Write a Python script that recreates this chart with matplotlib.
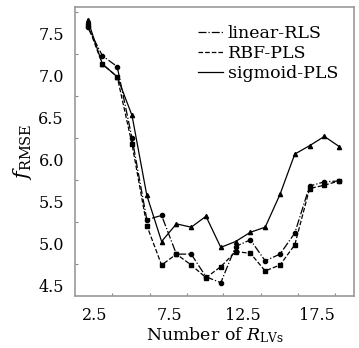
import matplotlib
matplotlib.use("Agg")
import matplotlib.pyplot as plt
from matplotlib.lines import Line2D

plt.rcParams['font.family'] = ['DejaVu Serif']
plt.rcParams['mathtext.fontset'] = 'dejavuserif'

# number of latent variables
lvs = [2, 3, 4, 5, 6, 7, 8, 9, 10, 11, 12, 13, 14, 15, 16, 17, 18, 19]

# RMSE for each model
linear_rls = [7.57, 7.23, 7.10, 6.25, 5.28, 5.33, 4.87, 4.87, 4.60, 4.53,
              4.96, 5.04, 4.79, 4.87, 5.12, 5.68, 5.73, 5.74]
rbf_pls = [7.60, 7.13, 6.98, 6.18, 5.21, 4.74, 4.87, 4.74, 4.59, 4.72,
           4.90, 4.88, 4.67, 4.74, 4.98, 5.65, 5.69, 5.74]
sigmoid_pls = [7.66, 7.13, 6.98, 6.52, 5.57, 5.02, 5.23, 5.19, 5.32, 4.95,
               5.02, 5.13, 5.19, 5.58, 6.06, 6.16, 6.27, 6.15]

xtick_labels = [2.5, 7.5, 12.5, 17.5]
xtick_marks = [3.65, 6.22, 8.72, 11.15, 13.72, 16.22, 18.72]
ytick_labels = [4.5, 5.0, 5.5, 6.0, 6.5, 7.0, 7.5]
ytick_marks = [4.75, 5.25, 5.75, 6.25, 6.75, 7.25, 7.75]

fig = plt.figure(figsize=(3.59, 3.48), dpi=100)
ax = fig.add_axes([0.209, 0.149, 0.777, 0.831])

ax.plot(lvs, linear_rls, color='black', linestyle='-.', linewidth=0.9,
        marker='o', markersize=3)
ax.plot(lvs, rbf_pls, color='black', linestyle='--', linewidth=0.9,
        marker='s', markersize=3)
ax.plot(lvs, sigmoid_pls, color='black', linestyle='-', linewidth=0.9,
        marker='^', markersize=3)

ax.set_xlim(1.15, 20.0)
ax.set_ylim(4.37, 7.81)

ax.set_xticks(xtick_labels)
ax.set_xticklabels([str(v) for v in xtick_labels])
ax.set_xticks(xtick_marks, minor=True)
ax.set_yticks(ytick_labels)
ax.set_yticklabels(['%.1f' % v for v in ytick_labels])
ax.set_yticks(ytick_marks, minor=True)
ax.tick_params(which='major', length=0, labelsize=11.5, pad=8)
ax.tick_params(which='minor', direction='in', length=2.5, width=0.8,
               color='#888888')

for s in ax.spines.values():
    s.set_color('#999999')
    s.set_linewidth(1.2)

ax.set_xlabel(r'Number of $R_{\mathrm{LVs}}$', fontsize=12.5, labelpad=1)
ax.set_ylabel(r'$f_{\mathrm{RMSE}}$', fontsize=15, labelpad=3)

handles = [
    Line2D([], [], color='black', linestyle='-.', linewidth=0.9),
    Line2D([], [], color='black', linestyle='--', linewidth=0.9),
    Line2D([], [], color='black', linestyle='-', linewidth=0.9),
]
ax.legend(handles, ['linear-RLS', 'RBF-PLS', 'sigmoid-PLS'],
          loc='upper right', bbox_to_anchor=(1.0, 0.99), frameon=False,
          fontsize=12.5, handlelength=1.4, handletextpad=0.3,
          labelspacing=0.15)

fig.savefig('out.png', dpi=100)
